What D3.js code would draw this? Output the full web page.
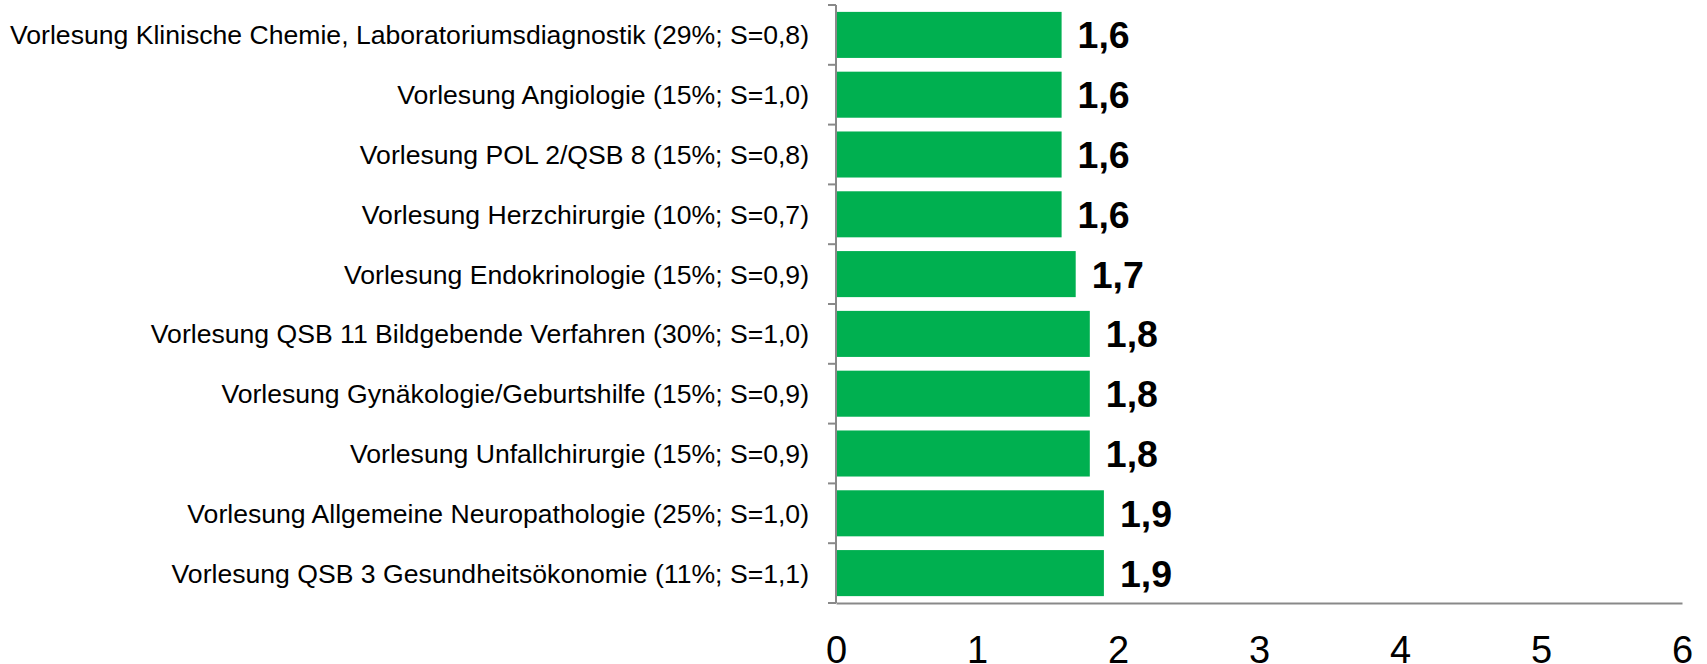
<!DOCTYPE html>
<html>
<head>
<meta charset="utf-8">
<script src="https://cdn.jsdelivr.net/npm/d3@7"></script>
<style>
  body { margin: 0; background: #fff; }
  text { font-family: "Liberation Sans", Arial, sans-serif; }
</style>
</head>
<body>
<div id="chart-area"></div>
<script>
// Chart data
const categories = [
    "Vorlesung Klinische Chemie, Laboratoriumsdiagnostik (29%; S=0,8)",
    "Vorlesung Angiologie (15%; S=1,0)",
    "Vorlesung POL 2/QSB 8 (15%; S=0,8)",
    "Vorlesung Herzchirurgie (10%; S=0,7)",
    "Vorlesung Endokrinologie (15%; S=0,9)",
    "Vorlesung QSB 11 Bildgebende Verfahren (30%; S=1,0)",
    "Vorlesung Gynäkologie/Geburtshilfe (15%; S=0,9)",
    "Vorlesung Unfallchirurgie (15%; S=0,9)",
    "Vorlesung Allgemeine Neuropathologie (25%; S=1,0)",
    "Vorlesung QSB 3 Gesundheitsökonomie (11%; S=1,1)"
];
const values = [1.6, 1.6, 1.6, 1.6, 1.7, 1.8, 1.8, 1.8, 1.9, 1.9];
const xTicks = [0, 1, 2, 3, 4, 5, 6];

const width = 1707, height = 664;
const axisColor = "#898989";

const svg = d3.select("#chart-area").append("svg")
    .attr("width", width)
    .attr("height", height);

// Scales
const x = d3.scaleLinear().domain([0, 6]).range([836, 1682]);
const y = d3.scaleBand().domain(categories).range([5, 603])
    .paddingInner(0.23).paddingOuter(0.115);

const fmt = (d) => d3.format(".1f")(d).replace(".", ",");

// Bars
svg.selectAll("rect.bar")
    .data(values)
    .enter().append("rect")
    .attr("class", "bar")
    .attr("x", x(0))
    .attr("y", (d, i) => y(categories[i]))
    .attr("width", (d) => x(d) - x(0))
    .attr("height", y.bandwidth())
    .attr("fill", "#00B050");

// Value labels
svg.selectAll("text.value")
    .data(values)
    .enter().append("text")
    .attr("class", "value")
    .attr("x", (d) => x(d) + 16)
    .attr("y", (d, i) => y(categories[i]) + y.bandwidth() / 2)
    .attr("dy", "0.36em")
    .attr("font-size", "37.5px")
    .attr("font-weight", "bold")
    .attr("fill", "#000")
    .text(fmt);

// Category labels
svg.selectAll("text.cat")
    .data(categories)
    .enter().append("text")
    .attr("class", "cat")
    .attr("x", 809)
    .attr("y", (d) => y(d) + y.bandwidth() / 2)
    .attr("dy", "0.36em")
    .attr("text-anchor", "end")
    .attr("font-size", "26.6px")
    .attr("fill", "#000")
    .text((d) => d);

// Y axis line and ticks at band boundaries
const [y0, y1] = y.range();
svg.append("line")
    .attr("x1", x(0)).attr("x2", x(0))
    .attr("y1", y0).attr("y2", y1)
    .attr("stroke", axisColor).attr("stroke-width", 2);

const bounds = d3.range(categories.length + 1).map((i) => y0 + i * y.step());
svg.selectAll("line.ytick")
    .data(bounds)
    .enter().append("line")
    .attr("class", "ytick")
    .attr("x1", x(0) - 8).attr("x2", x(0))
    .attr("y1", (d) => d).attr("y2", (d) => d)
    .attr("stroke", axisColor).attr("stroke-width", 2);

// X axis
const xAxis = svg.append("g")
    .attr("transform", "translate(0," + y1 + ")")
    .call(d3.axisBottom(x).tickValues(xTicks).tickSize(0).tickPadding(33)
        .tickFormat((d) => d));
xAxis.select(".domain").attr("stroke", axisColor).attr("stroke-width", 2);
xAxis.selectAll("text")
    .attr("font-size", "38px")
    .attr("font-family", "Liberation Sans, Arial, sans-serif")
    .attr("fill", "#000");
</script>
</body>
</html>
